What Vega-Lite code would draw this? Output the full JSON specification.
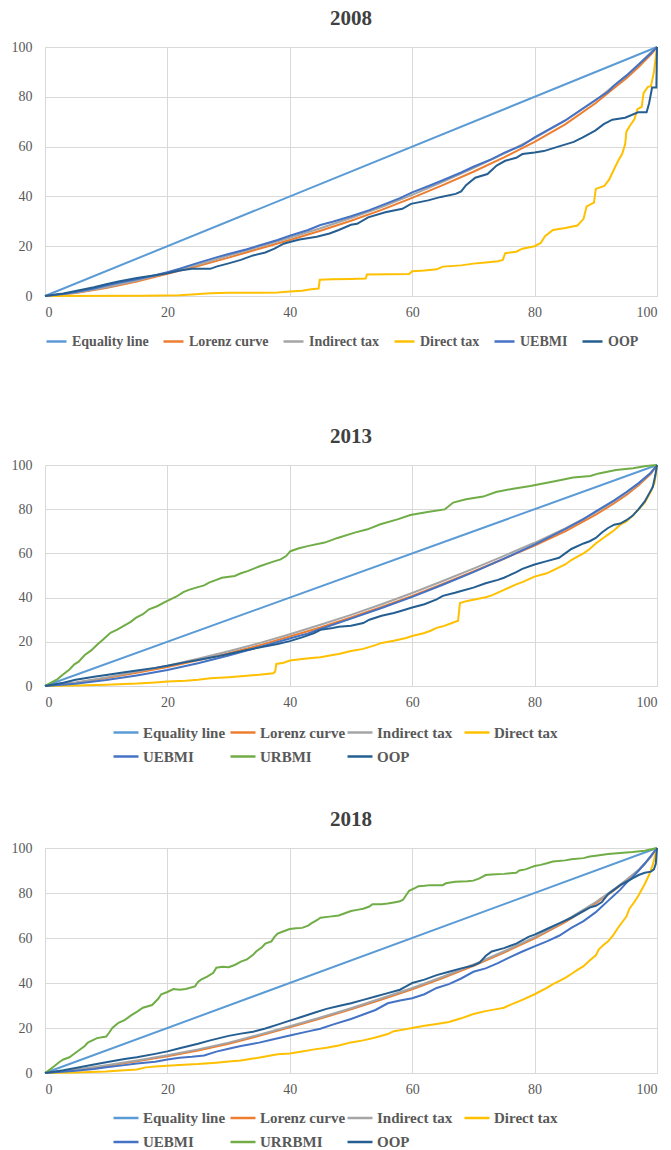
{
  "$schema": "https://vega.github.io/schema/vega-lite/v6.json",
  "background": "white",
  "padding": {"left": 11, "right": 2, "top": 8, "bottom": 0},
  "datasets": {
    "d2008": [
      {"s":"Equality line","x":0,"y":0},{"s":"Equality line","x":100,"y":100},
      {"s":"Lorenz curve","x":0,"y":0},{"s":"Lorenz curve","x":5,"y":1.2},{"s":"Lorenz curve","x":10,"y":3.2},{"s":"Lorenz curve","x":15,"y":5.8},{"s":"Lorenz curve","x":20,"y":8.9},{"s":"Lorenz curve","x":25,"y":12},{"s":"Lorenz curve","x":30,"y":15.4},{"s":"Lorenz curve","x":35,"y":19},{"s":"Lorenz curve","x":40,"y":22.5},{"s":"Lorenz curve","x":45,"y":26.2},{"s":"Lorenz curve","x":50,"y":30.2},{"s":"Lorenz curve","x":55,"y":34.6},{"s":"Lorenz curve","x":60,"y":39.4},{"s":"Lorenz curve","x":65,"y":44.5},{"s":"Lorenz curve","x":70,"y":49.9},{"s":"Lorenz curve","x":75,"y":55.7},{"s":"Lorenz curve","x":80,"y":61.9},{"s":"Lorenz curve","x":85,"y":68.9},{"s":"Lorenz curve","x":90,"y":77.5},{"s":"Lorenz curve","x":93,"y":83.5},{"s":"Lorenz curve","x":95,"y":87.5},{"s":"Lorenz curve","x":97,"y":92},{"s":"Lorenz curve","x":99,"y":97},{"s":"Lorenz curve","x":100,"y":100},
      {"s":"Indirect tax","x":0,"y":0},{"s":"Indirect tax","x":5,"y":1.3},{"s":"Indirect tax","x":10,"y":3.5},{"s":"Indirect tax","x":15,"y":6.2},{"s":"Indirect tax","x":20,"y":9.3},{"s":"Indirect tax","x":25,"y":12.6},{"s":"Indirect tax","x":30,"y":16.2},{"s":"Indirect tax","x":35,"y":19.8},{"s":"Indirect tax","x":40,"y":23.4},{"s":"Indirect tax","x":45,"y":27.2},{"s":"Indirect tax","x":50,"y":31.3},{"s":"Indirect tax","x":55,"y":35.7},{"s":"Indirect tax","x":60,"y":40.6},{"s":"Indirect tax","x":65,"y":45.8},{"s":"Indirect tax","x":70,"y":51.4},{"s":"Indirect tax","x":75,"y":57.2},{"s":"Indirect tax","x":80,"y":63.4},{"s":"Indirect tax","x":85,"y":70.4},{"s":"Indirect tax","x":90,"y":78.6},{"s":"Indirect tax","x":93,"y":84.5},{"s":"Indirect tax","x":95,"y":88.5},{"s":"Indirect tax","x":97,"y":93},{"s":"Indirect tax","x":99,"y":97.8},{"s":"Indirect tax","x":100,"y":100},
      {"s":"Direct tax","x":0,"y":0},{"s":"Direct tax","x":16,"y":0.1},{"s":"Direct tax","x":22,"y":0.3},{"s":"Direct tax","x":24,"y":0.6},{"s":"Direct tax","x":27,"y":1.1},{"s":"Direct tax","x":30,"y":1.3},{"s":"Direct tax","x":35,"y":1.3},{"s":"Direct tax","x":38,"y":1.4},{"s":"Direct tax","x":40,"y":1.8},{"s":"Direct tax","x":42,"y":2.1},{"s":"Direct tax","x":43.5,"y":2.7},{"s":"Direct tax","x":44.7,"y":3},{"s":"Direct tax","x":44.9,"y":6.5},{"s":"Direct tax","x":47,"y":6.7},{"s":"Direct tax","x":50,"y":6.8},{"s":"Direct tax","x":52.4,"y":7},{"s":"Direct tax","x":52.6,"y":8.6},{"s":"Direct tax","x":56,"y":8.7},{"s":"Direct tax","x":59.5,"y":8.8},{"s":"Direct tax","x":60,"y":9.9},{"s":"Direct tax","x":62,"y":10.2},{"s":"Direct tax","x":64,"y":10.7},{"s":"Direct tax","x":65,"y":11.8},{"s":"Direct tax","x":68,"y":12.3},{"s":"Direct tax","x":70,"y":13},{"s":"Direct tax","x":72,"y":13.5},{"s":"Direct tax","x":74,"y":14},{"s":"Direct tax","x":74.8,"y":14.5},{"s":"Direct tax","x":75.2,"y":17.2},{"s":"Direct tax","x":77,"y":17.8},{"s":"Direct tax","x":78,"y":19},{"s":"Direct tax","x":80,"y":20},{"s":"Direct tax","x":81,"y":21.3},{"s":"Direct tax","x":81.7,"y":24},{"s":"Direct tax","x":83,"y":26.5},{"s":"Direct tax","x":85,"y":27.3},{"s":"Direct tax","x":87,"y":28.3},{"s":"Direct tax","x":88,"y":31},{"s":"Direct tax","x":88.5,"y":36},{"s":"Direct tax","x":89.7,"y":37.5},{"s":"Direct tax","x":90,"y":43},{"s":"Direct tax","x":91.4,"y":44.2},{"s":"Direct tax","x":92.2,"y":46.8},{"s":"Direct tax","x":93,"y":51},{"s":"Direct tax","x":93.7,"y":54.5},{"s":"Direct tax","x":94.3,"y":57},{"s":"Direct tax","x":94.8,"y":61},{"s":"Direct tax","x":95,"y":66},{"s":"Direct tax","x":95.6,"y":68.5},{"s":"Direct tax","x":96.3,"y":71},{"s":"Direct tax","x":96.8,"y":75},{"s":"Direct tax","x":97.5,"y":76},{"s":"Direct tax","x":97.8,"y":81.5},{"s":"Direct tax","x":98.5,"y":84},{"s":"Direct tax","x":99,"y":84.2},{"s":"Direct tax","x":99.5,"y":90},{"s":"Direct tax","x":100,"y":100},
      {"s":"UEBMI","x":0,"y":0},{"s":"UEBMI","x":3,"y":0.8},{"s":"UEBMI","x":5,"y":1.6},{"s":"UEBMI","x":8,"y":3},{"s":"UEBMI","x":10,"y":4.2},{"s":"UEBMI","x":12,"y":5.3},{"s":"UEBMI","x":15,"y":6.7},{"s":"UEBMI","x":18,"y":8.3},{"s":"UEBMI","x":20,"y":9.6},{"s":"UEBMI","x":22,"y":11},{"s":"UEBMI","x":25,"y":13.3},{"s":"UEBMI","x":28,"y":15.5},{"s":"UEBMI","x":30,"y":16.9},{"s":"UEBMI","x":33,"y":18.8},{"s":"UEBMI","x":35,"y":20.3},{"s":"UEBMI","x":38,"y":22.5},{"s":"UEBMI","x":40,"y":24.2},{"s":"UEBMI","x":43,"y":26.5},{"s":"UEBMI","x":45,"y":28.5},{"s":"UEBMI","x":47,"y":29.8},{"s":"UEBMI","x":50,"y":32},{"s":"UEBMI","x":53,"y":34.5},{"s":"UEBMI","x":55,"y":36.4},{"s":"UEBMI","x":58,"y":39.3},{"s":"UEBMI","x":60,"y":41.6},{"s":"UEBMI","x":63,"y":44.5},{"s":"UEBMI","x":65,"y":46.5},{"s":"UEBMI","x":68,"y":49.6},{"s":"UEBMI","x":70,"y":51.9},{"s":"UEBMI","x":73,"y":55},{"s":"UEBMI","x":75,"y":57.5},{"s":"UEBMI","x":78,"y":60.5},{"s":"UEBMI","x":80,"y":63.7},{"s":"UEBMI","x":83,"y":67.8},{"s":"UEBMI","x":85,"y":70.5},{"s":"UEBMI","x":88,"y":75.5},{"s":"UEBMI","x":90,"y":78.8},{"s":"UEBMI","x":92,"y":82},{"s":"UEBMI","x":93,"y":84.5},{"s":"UEBMI","x":95,"y":88.5},{"s":"UEBMI","x":97,"y":93},{"s":"UEBMI","x":99,"y":97.5},{"s":"UEBMI","x":100,"y":100},
      {"s":"OOP","x":0,"y":0},{"s":"OOP","x":3,"y":1},{"s":"OOP","x":5,"y":2},{"s":"OOP","x":8,"y":3.5},{"s":"OOP","x":10,"y":4.7},{"s":"OOP","x":12,"y":5.8},{"s":"OOP","x":15,"y":7.2},{"s":"OOP","x":18,"y":8.3},{"s":"OOP","x":20,"y":9.1},{"s":"OOP","x":22,"y":10.2},{"s":"OOP","x":24,"y":10.9},{"s":"OOP","x":27,"y":10.9},{"s":"OOP","x":28,"y":11.8},{"s":"OOP","x":30,"y":13.1},{"s":"OOP","x":32,"y":14.5},{"s":"OOP","x":34,"y":16.3},{"s":"OOP","x":36,"y":17.5},{"s":"OOP","x":37.5,"y":19},{"s":"OOP","x":39,"y":21},{"s":"OOP","x":40,"y":21.7},{"s":"OOP","x":41.6,"y":22.7},{"s":"OOP","x":44.4,"y":23.8},{"s":"OOP","x":46.5,"y":25.1},{"s":"OOP","x":48,"y":26.5},{"s":"OOP","x":50,"y":28.6},{"s":"OOP","x":51,"y":29},{"s":"OOP","x":52.8,"y":31.6},{"s":"OOP","x":55.6,"y":33.6},{"s":"OOP","x":58.4,"y":35},{"s":"OOP","x":59.8,"y":37},{"s":"OOP","x":62.6,"y":38.4},{"s":"OOP","x":64.7,"y":39.8},{"s":"OOP","x":67.1,"y":41},{"s":"OOP","x":68,"y":42},{"s":"OOP","x":68.8,"y":44.5},{"s":"OOP","x":70.3,"y":47.5},{"s":"OOP","x":72.3,"y":49},{"s":"OOP","x":73.8,"y":52.4},{"s":"OOP","x":75.2,"y":54.3},{"s":"OOP","x":77,"y":55.5},{"s":"OOP","x":78,"y":57},{"s":"OOP","x":80,"y":57.6},{"s":"OOP","x":81.5,"y":58.2},{"s":"OOP","x":83.6,"y":59.8},{"s":"OOP","x":86.4,"y":61.9},{"s":"OOP","x":87.8,"y":63.6},{"s":"OOP","x":89.9,"y":66.4},{"s":"OOP","x":91.3,"y":69},{"s":"OOP","x":92.7,"y":70.8},{"s":"OOP","x":94.8,"y":71.6},{"s":"OOP","x":96.9,"y":73.8},{"s":"OOP","x":98.3,"y":73.8},{"s":"OOP","x":98.7,"y":77.3},{"s":"OOP","x":99.2,"y":83.7},{"s":"OOP","x":99.9,"y":83.7},{"s":"OOP","x":100,"y":100}
    ],
    "d2013": [
      {"s":"Equality line","x":0,"y":0},{"s":"Equality line","x":100,"y":100},
      {"s":"Lorenz curve","x":0,"y":0},{"s":"Lorenz curve","x":5,"y":1.5},{"s":"Lorenz curve","x":10,"y":3.6},{"s":"Lorenz curve","x":15,"y":6},{"s":"Lorenz curve","x":20,"y":8.6},{"s":"Lorenz curve","x":25,"y":11.6},{"s":"Lorenz curve","x":30,"y":14.8},{"s":"Lorenz curve","x":35,"y":18.4},{"s":"Lorenz curve","x":40,"y":22.4},{"s":"Lorenz curve","x":45,"y":26.5},{"s":"Lorenz curve","x":50,"y":31},{"s":"Lorenz curve","x":55,"y":35.8},{"s":"Lorenz curve","x":60,"y":40.8},{"s":"Lorenz curve","x":65,"y":46.2},{"s":"Lorenz curve","x":70,"y":51.8},{"s":"Lorenz curve","x":75,"y":57.6},{"s":"Lorenz curve","x":80,"y":63.5},{"s":"Lorenz curve","x":85,"y":70},{"s":"Lorenz curve","x":90,"y":77.5},{"s":"Lorenz curve","x":93,"y":82.7},{"s":"Lorenz curve","x":95,"y":86.5},{"s":"Lorenz curve","x":97,"y":90.8},{"s":"Lorenz curve","x":99,"y":96},{"s":"Lorenz curve","x":100,"y":100},
      {"s":"Indirect tax","x":0,"y":0},{"s":"Indirect tax","x":5,"y":1.6},{"s":"Indirect tax","x":10,"y":3.9},{"s":"Indirect tax","x":15,"y":6.5},{"s":"Indirect tax","x":20,"y":9.2},{"s":"Indirect tax","x":25,"y":12.3},{"s":"Indirect tax","x":30,"y":15.7},{"s":"Indirect tax","x":35,"y":19.4},{"s":"Indirect tax","x":40,"y":23.4},{"s":"Indirect tax","x":45,"y":27.7},{"s":"Indirect tax","x":50,"y":32.2},{"s":"Indirect tax","x":55,"y":37},{"s":"Indirect tax","x":60,"y":42.1},{"s":"Indirect tax","x":65,"y":47.5},{"s":"Indirect tax","x":70,"y":53.1},{"s":"Indirect tax","x":75,"y":58.9},{"s":"Indirect tax","x":80,"y":64.8},{"s":"Indirect tax","x":85,"y":71.3},{"s":"Indirect tax","x":90,"y":78.6},{"s":"Indirect tax","x":93,"y":83.6},{"s":"Indirect tax","x":95,"y":87.3},{"s":"Indirect tax","x":97,"y":91.5},{"s":"Indirect tax","x":99,"y":96.5},{"s":"Indirect tax","x":100,"y":100},
      {"s":"Direct tax","x":0,"y":0},{"s":"Direct tax","x":5,"y":0.2},{"s":"Direct tax","x":10,"y":0.6},{"s":"Direct tax","x":15,"y":1.1},{"s":"Direct tax","x":18,"y":1.6},{"s":"Direct tax","x":20,"y":2},{"s":"Direct tax","x":23,"y":2.4},{"s":"Direct tax","x":25,"y":2.8},{"s":"Direct tax","x":27,"y":3.5},{"s":"Direct tax","x":30,"y":4},{"s":"Direct tax","x":33,"y":4.6},{"s":"Direct tax","x":35,"y":5.1},{"s":"Direct tax","x":37.3,"y":5.8},{"s":"Direct tax","x":37.6,"y":6.5},{"s":"Direct tax","x":37.8,"y":10},{"s":"Direct tax","x":39,"y":10.5},{"s":"Direct tax","x":40,"y":11.5},{"s":"Direct tax","x":42,"y":12.2},{"s":"Direct tax","x":44,"y":12.8},{"s":"Direct tax","x":45,"y":13},{"s":"Direct tax","x":47,"y":14},{"s":"Direct tax","x":48,"y":14.5},{"s":"Direct tax","x":50,"y":15.8},{"s":"Direct tax","x":52,"y":16.8},{"s":"Direct tax","x":54,"y":18.5},{"s":"Direct tax","x":55,"y":19.5},{"s":"Direct tax","x":57,"y":20.5},{"s":"Direct tax","x":59,"y":21.7},{"s":"Direct tax","x":60,"y":22.6},{"s":"Direct tax","x":62,"y":24},{"s":"Direct tax","x":63,"y":25},{"s":"Direct tax","x":64,"y":26.3},{"s":"Direct tax","x":65,"y":27},{"s":"Direct tax","x":66.5,"y":28.5},{"s":"Direct tax","x":67.5,"y":29.5},{"s":"Direct tax","x":67.8,"y":37.5},{"s":"Direct tax","x":69,"y":38.5},{"s":"Direct tax","x":70,"y":39},{"s":"Direct tax","x":72,"y":40.2},{"s":"Direct tax","x":73,"y":41},{"s":"Direct tax","x":75,"y":43.5},{"s":"Direct tax","x":77,"y":46},{"s":"Direct tax","x":78,"y":47},{"s":"Direct tax","x":80,"y":49.5},{"s":"Direct tax","x":82,"y":51},{"s":"Direct tax","x":83,"y":52.3},{"s":"Direct tax","x":85,"y":55},{"s":"Direct tax","x":86,"y":57},{"s":"Direct tax","x":87,"y":58.5},{"s":"Direct tax","x":88,"y":60},{"s":"Direct tax","x":89,"y":62},{"s":"Direct tax","x":90,"y":64.5},{"s":"Direct tax","x":91,"y":66.5},{"s":"Direct tax","x":92,"y":68.5},{"s":"Direct tax","x":93,"y":70.5},{"s":"Direct tax","x":94,"y":73},{"s":"Direct tax","x":95,"y":74.5},{"s":"Direct tax","x":96,"y":77},{"s":"Direct tax","x":97,"y":80},{"s":"Direct tax","x":98,"y":83},{"s":"Direct tax","x":99,"y":88},{"s":"Direct tax","x":99.6,"y":92},{"s":"Direct tax","x":100,"y":100},
      {"s":"UEBMI","x":0,"y":0},{"s":"UEBMI","x":5,"y":1},{"s":"UEBMI","x":10,"y":2.7},{"s":"UEBMI","x":15,"y":4.8},{"s":"UEBMI","x":20,"y":7.2},{"s":"UEBMI","x":25,"y":10.3},{"s":"UEBMI","x":30,"y":13.8},{"s":"UEBMI","x":35,"y":17.6},{"s":"UEBMI","x":40,"y":21.5},{"s":"UEBMI","x":43,"y":23.8},{"s":"UEBMI","x":45,"y":25.8},{"s":"UEBMI","x":50,"y":30.5},{"s":"UEBMI","x":55,"y":35.3},{"s":"UEBMI","x":60,"y":40.3},{"s":"UEBMI","x":65,"y":45.8},{"s":"UEBMI","x":70,"y":51.5},{"s":"UEBMI","x":75,"y":57.6},{"s":"UEBMI","x":80,"y":64},{"s":"UEBMI","x":85,"y":71},{"s":"UEBMI","x":88,"y":75.5},{"s":"UEBMI","x":90,"y":79},{"s":"UEBMI","x":93,"y":84},{"s":"UEBMI","x":95,"y":87.8},{"s":"UEBMI","x":97,"y":91.8},{"s":"UEBMI","x":99,"y":96.5},{"s":"UEBMI","x":100,"y":100},
      {"s":"URBMI","x":0,"y":0},{"s":"URBMI","x":1,"y":1.5},{"s":"URBMI","x":2,"y":3},{"s":"URBMI","x":3,"y":5.3},{"s":"URBMI","x":4,"y":7.5},{"s":"URBMI","x":4.8,"y":9.8},{"s":"URBMI","x":5.5,"y":11},{"s":"URBMI","x":6.5,"y":14},{"s":"URBMI","x":7.5,"y":16},{"s":"URBMI","x":8.6,"y":18.9},{"s":"URBMI","x":9.5,"y":21},{"s":"URBMI","x":10.7,"y":24.1},{"s":"URBMI","x":11.8,"y":25.5},{"s":"URBMI","x":12.8,"y":27.1},{"s":"URBMI","x":14,"y":29},{"s":"URBMI","x":14.9,"y":30.9},{"s":"URBMI","x":16,"y":32.5},{"s":"URBMI","x":17,"y":34.7},{"s":"URBMI","x":18.4,"y":36.2},{"s":"URBMI","x":19.5,"y":37.8},{"s":"URBMI","x":20.5,"y":39.2},{"s":"URBMI","x":21.5,"y":40.5},{"s":"URBMI","x":22.6,"y":42.5},{"s":"URBMI","x":23.5,"y":43.5},{"s":"URBMI","x":24.7,"y":44.5},{"s":"URBMI","x":26,"y":45.5},{"s":"URBMI","x":26.8,"y":46.8},{"s":"URBMI","x":28,"y":48},{"s":"URBMI","x":28.9,"y":49},{"s":"URBMI","x":31,"y":49.8},{"s":"URBMI","x":32,"y":51},{"s":"URBMI","x":33.1,"y":52},{"s":"URBMI","x":35.2,"y":54.3},{"s":"URBMI","x":37.3,"y":56.3},{"s":"URBMI","x":38.5,"y":57.3},{"s":"URBMI","x":39.4,"y":58.8},{"s":"URBMI","x":40.1,"y":61},{"s":"URBMI","x":41.5,"y":62.3},{"s":"URBMI","x":42.9,"y":63.3},{"s":"URBMI","x":45.7,"y":64.9},{"s":"URBMI","x":47.8,"y":67},{"s":"URBMI","x":50.6,"y":69.4},{"s":"URBMI","x":52.7,"y":70.9},{"s":"URBMI","x":54.8,"y":73.2},{"s":"URBMI","x":57.6,"y":75.4},{"s":"URBMI","x":59.7,"y":77.4},{"s":"URBMI","x":62.5,"y":78.7},{"s":"URBMI","x":65.3,"y":79.9},{"s":"URBMI","x":66.7,"y":83},{"s":"URBMI","x":68.8,"y":84.5},{"s":"URBMI","x":71.6,"y":85.7},{"s":"URBMI","x":73.7,"y":87.8},{"s":"URBMI","x":76.5,"y":89.3},{"s":"URBMI","x":79.3,"y":90.5},{"s":"URBMI","x":81.4,"y":91.6},{"s":"URBMI","x":83.5,"y":92.8},{"s":"URBMI","x":86.3,"y":94.3},{"s":"URBMI","x":89.1,"y":95},{"s":"URBMI","x":90.5,"y":96.2},{"s":"URBMI","x":93.3,"y":97.7},{"s":"URBMI","x":96.1,"y":98.5},{"s":"URBMI","x":98.2,"y":99.5},{"s":"URBMI","x":100,"y":100},
      {"s":"OOP","x":0,"y":0},{"s":"OOP","x":3,"y":1.5},{"s":"OOP","x":5,"y":2.8},{"s":"OOP","x":8,"y":4.2},{"s":"OOP","x":10,"y":5},{"s":"OOP","x":13,"y":6.2},{"s":"OOP","x":15,"y":7},{"s":"OOP","x":18,"y":8.2},{"s":"OOP","x":20,"y":9.2},{"s":"OOP","x":23,"y":10.8},{"s":"OOP","x":25,"y":11.8},{"s":"OOP","x":28,"y":13.3},{"s":"OOP","x":30,"y":14.5},{"s":"OOP","x":33,"y":16.3},{"s":"OOP","x":35,"y":17.4},{"s":"OOP","x":38,"y":19},{"s":"OOP","x":40,"y":20.3},{"s":"OOP","x":42,"y":22},{"s":"OOP","x":44,"y":24},{"s":"OOP","x":45,"y":25.4},{"s":"OOP","x":47,"y":26.2},{"s":"OOP","x":48,"y":26.8},{"s":"OOP","x":50,"y":27.3},{"s":"OOP","x":52,"y":28.5},{"s":"OOP","x":53,"y":30},{"s":"OOP","x":55,"y":31.8},{"s":"OOP","x":57,"y":33},{"s":"OOP","x":58,"y":33.8},{"s":"OOP","x":60,"y":35.5},{"s":"OOP","x":62,"y":37},{"s":"OOP","x":64,"y":39.2},{"s":"OOP","x":65,"y":40.8},{"s":"OOP","x":67,"y":42.2},{"s":"OOP","x":68,"y":43},{"s":"OOP","x":70,"y":44.5},{"s":"OOP","x":72,"y":46.5},{"s":"OOP","x":74,"y":48},{"s":"OOP","x":75,"y":49},{"s":"OOP","x":77,"y":51.5},{"s":"OOP","x":78,"y":53},{"s":"OOP","x":80,"y":55},{"s":"OOP","x":82,"y":56.5},{"s":"OOP","x":84,"y":58},{"s":"OOP","x":85,"y":60},{"s":"OOP","x":86,"y":62},{"s":"OOP","x":88,"y":64.5},{"s":"OOP","x":89,"y":65.5},{"s":"OOP","x":90,"y":67},{"s":"OOP","x":91,"y":69.5},{"s":"OOP","x":92,"y":71.5},{"s":"OOP","x":93,"y":73},{"s":"OOP","x":94,"y":73.5},{"s":"OOP","x":95,"y":75},{"s":"OOP","x":96,"y":77},{"s":"OOP","x":97,"y":80},{"s":"OOP","x":98,"y":83.5},{"s":"OOP","x":98.8,"y":87.5},{"s":"OOP","x":99.3,"y":90},{"s":"OOP","x":99.7,"y":95},{"s":"OOP","x":100,"y":100}
    ],
    "d2018": [
      {"s":"Equality line","x":0,"y":0},{"s":"Equality line","x":100,"y":100},
      {"s":"Lorenz curve","x":0,"y":0},{"s":"Lorenz curve","x":5,"y":1.3},{"s":"Lorenz curve","x":10,"y":3.1},{"s":"Lorenz curve","x":15,"y":5.2},{"s":"Lorenz curve","x":20,"y":7.4},{"s":"Lorenz curve","x":25,"y":10},{"s":"Lorenz curve","x":30,"y":13},{"s":"Lorenz curve","x":35,"y":16.5},{"s":"Lorenz curve","x":40,"y":20.3},{"s":"Lorenz curve","x":45,"y":24.2},{"s":"Lorenz curve","x":50,"y":28.3},{"s":"Lorenz curve","x":55,"y":32.6},{"s":"Lorenz curve","x":60,"y":37.2},{"s":"Lorenz curve","x":65,"y":42.2},{"s":"Lorenz curve","x":70,"y":47.6},{"s":"Lorenz curve","x":75,"y":53.5},{"s":"Lorenz curve","x":80,"y":59.8},{"s":"Lorenz curve","x":85,"y":67},{"s":"Lorenz curve","x":90,"y":75.5},{"s":"Lorenz curve","x":93,"y":81.2},{"s":"Lorenz curve","x":95,"y":85.5},{"s":"Lorenz curve","x":97,"y":90},{"s":"Lorenz curve","x":99,"y":96},{"s":"Lorenz curve","x":100,"y":100},
      {"s":"Indirect tax","x":0,"y":0},{"s":"Indirect tax","x":5,"y":1.5},{"s":"Indirect tax","x":10,"y":3.4},{"s":"Indirect tax","x":15,"y":5.6},{"s":"Indirect tax","x":20,"y":7.9},{"s":"Indirect tax","x":25,"y":10.5},{"s":"Indirect tax","x":30,"y":13.5},{"s":"Indirect tax","x":35,"y":17},{"s":"Indirect tax","x":40,"y":20.8},{"s":"Indirect tax","x":45,"y":24.7},{"s":"Indirect tax","x":50,"y":28.8},{"s":"Indirect tax","x":55,"y":33.2},{"s":"Indirect tax","x":60,"y":37.8},{"s":"Indirect tax","x":65,"y":42.8},{"s":"Indirect tax","x":70,"y":48.2},{"s":"Indirect tax","x":75,"y":54.1},{"s":"Indirect tax","x":80,"y":60.4},{"s":"Indirect tax","x":85,"y":67.6},{"s":"Indirect tax","x":90,"y":76},{"s":"Indirect tax","x":93,"y":81.7},{"s":"Indirect tax","x":95,"y":85.9},{"s":"Indirect tax","x":97,"y":90.3},{"s":"Indirect tax","x":99,"y":96.2},{"s":"Indirect tax","x":100,"y":100},
      {"s":"Direct tax","x":0,"y":0},{"s":"Direct tax","x":5,"y":0.2},{"s":"Direct tax","x":10,"y":0.7},{"s":"Direct tax","x":13,"y":1.2},{"s":"Direct tax","x":15,"y":1.6},{"s":"Direct tax","x":16.5,"y":2.5},{"s":"Direct tax","x":18,"y":2.9},{"s":"Direct tax","x":20,"y":3.2},{"s":"Direct tax","x":22,"y":3.6},{"s":"Direct tax","x":25,"y":4},{"s":"Direct tax","x":28,"y":4.6},{"s":"Direct tax","x":30,"y":5.1},{"s":"Direct tax","x":32,"y":5.6},{"s":"Direct tax","x":34,"y":6.4},{"s":"Direct tax","x":36,"y":7.3},{"s":"Direct tax","x":38,"y":8.3},{"s":"Direct tax","x":40,"y":8.7},{"s":"Direct tax","x":42,"y":9.6},{"s":"Direct tax","x":44,"y":10.5},{"s":"Direct tax","x":46,"y":11.2},{"s":"Direct tax","x":48,"y":12.2},{"s":"Direct tax","x":50,"y":13.6},{"s":"Direct tax","x":52,"y":14.5},{"s":"Direct tax","x":54,"y":15.8},{"s":"Direct tax","x":56,"y":17.3},{"s":"Direct tax","x":57,"y":18.6},{"s":"Direct tax","x":59,"y":19.5},{"s":"Direct tax","x":60,"y":20},{"s":"Direct tax","x":62,"y":21},{"s":"Direct tax","x":64,"y":21.8},{"s":"Direct tax","x":66,"y":22.7},{"s":"Direct tax","x":68,"y":24.3},{"s":"Direct tax","x":70,"y":26.2},{"s":"Direct tax","x":72,"y":27.5},{"s":"Direct tax","x":74,"y":28.5},{"s":"Direct tax","x":75,"y":29},{"s":"Direct tax","x":76,"y":30.3},{"s":"Direct tax","x":78,"y":32.5},{"s":"Direct tax","x":80,"y":35},{"s":"Direct tax","x":82,"y":37.8},{"s":"Direct tax","x":83,"y":39.5},{"s":"Direct tax","x":84,"y":40.8},{"s":"Direct tax","x":85,"y":42.3},{"s":"Direct tax","x":86,"y":44},{"s":"Direct tax","x":87,"y":45.8},{"s":"Direct tax","x":88,"y":47.5},{"s":"Direct tax","x":89,"y":50},{"s":"Direct tax","x":90,"y":52.3},{"s":"Direct tax","x":90.5,"y":55},{"s":"Direct tax","x":91.3,"y":57},{"s":"Direct tax","x":92,"y":58.5},{"s":"Direct tax","x":92.8,"y":61},{"s":"Direct tax","x":93.5,"y":64},{"s":"Direct tax","x":94.3,"y":67},{"s":"Direct tax","x":95,"y":69.5},{"s":"Direct tax","x":95.5,"y":73},{"s":"Direct tax","x":96.3,"y":76},{"s":"Direct tax","x":97,"y":79},{"s":"Direct tax","x":98,"y":84},{"s":"Direct tax","x":98.7,"y":88},{"s":"Direct tax","x":99.3,"y":92.5},{"s":"Direct tax","x":100,"y":100},
      {"s":"UEBMI","x":0,"y":0},{"s":"UEBMI","x":5,"y":1},{"s":"UEBMI","x":8,"y":1.8},{"s":"UEBMI","x":10,"y":2.6},{"s":"UEBMI","x":13,"y":3.5},{"s":"UEBMI","x":15,"y":4.2},{"s":"UEBMI","x":18,"y":5},{"s":"UEBMI","x":20,"y":6},{"s":"UEBMI","x":22,"y":6.8},{"s":"UEBMI","x":24,"y":7.2},{"s":"UEBMI","x":26,"y":7.8},{"s":"UEBMI","x":28,"y":9.5},{"s":"UEBMI","x":30,"y":10.8},{"s":"UEBMI","x":32,"y":12},{"s":"UEBMI","x":35,"y":13.5},{"s":"UEBMI","x":37,"y":14.8},{"s":"UEBMI","x":40,"y":16.7},{"s":"UEBMI","x":43,"y":18.5},{"s":"UEBMI","x":45,"y":19.7},{"s":"UEBMI","x":47,"y":21.5},{"s":"UEBMI","x":50,"y":24},{"s":"UEBMI","x":52,"y":26},{"s":"UEBMI","x":54,"y":28},{"s":"UEBMI","x":56,"y":31},{"s":"UEBMI","x":58,"y":32.2},{"s":"UEBMI","x":60,"y":33.2},{"s":"UEBMI","x":62,"y":35},{"s":"UEBMI","x":64,"y":37.8},{"s":"UEBMI","x":66,"y":39.5},{"s":"UEBMI","x":68,"y":42},{"s":"UEBMI","x":70,"y":45},{"s":"UEBMI","x":72,"y":46.5},{"s":"UEBMI","x":74,"y":48.8},{"s":"UEBMI","x":76,"y":51.5},{"s":"UEBMI","x":78,"y":54},{"s":"UEBMI","x":80,"y":56.3},{"s":"UEBMI","x":82,"y":58.5},{"s":"UEBMI","x":84,"y":61},{"s":"UEBMI","x":86,"y":64.5},{"s":"UEBMI","x":88,"y":67.5},{"s":"UEBMI","x":89,"y":69.5},{"s":"UEBMI","x":90,"y":71.5},{"s":"UEBMI","x":91,"y":74},{"s":"UEBMI","x":92,"y":76.5},{"s":"UEBMI","x":93,"y":79},{"s":"UEBMI","x":94,"y":81.5},{"s":"UEBMI","x":95,"y":84.5},{"s":"UEBMI","x":96,"y":87},{"s":"UEBMI","x":97,"y":90},{"s":"UEBMI","x":98,"y":93},{"s":"UEBMI","x":99,"y":96.5},{"s":"UEBMI","x":100,"y":100},
      {"s":"URRBMI","x":0,"y":0},{"s":"URRBMI","x":0.8,"y":1.5},{"s":"URRBMI","x":1.5,"y":3},{"s":"URRBMI","x":2.3,"y":4.8},{"s":"URRBMI","x":3,"y":6},{"s":"URRBMI","x":4,"y":7},{"s":"URRBMI","x":4.5,"y":8},{"s":"URRBMI","x":5.5,"y":10},{"s":"URRBMI","x":6.5,"y":12},{"s":"URRBMI","x":7,"y":13.5},{"s":"URRBMI","x":8,"y":14.8},{"s":"URRBMI","x":8.5,"y":15.5},{"s":"URRBMI","x":10,"y":16.2},{"s":"URRBMI","x":10.5,"y":18},{"s":"URRBMI","x":11,"y":20},{"s":"URRBMI","x":12,"y":22.3},{"s":"URRBMI","x":13,"y":23.5},{"s":"URRBMI","x":14,"y":25.5},{"s":"URRBMI","x":15,"y":27.2},{"s":"URRBMI","x":16,"y":29},{"s":"URRBMI","x":17.5,"y":30.2},{"s":"URRBMI","x":18.5,"y":33},{"s":"URRBMI","x":19,"y":35},{"s":"URRBMI","x":20,"y":36},{"s":"URRBMI","x":21,"y":37.3},{"s":"URRBMI","x":22,"y":37},{"s":"URRBMI","x":23,"y":37.3},{"s":"URRBMI","x":24.5,"y":38.5},{"s":"URRBMI","x":25,"y":40.5},{"s":"URRBMI","x":25.5,"y":41.5},{"s":"URRBMI","x":26.5,"y":42.8},{"s":"URRBMI","x":27.5,"y":44.5},{"s":"URRBMI","x":28,"y":46.8},{"s":"URRBMI","x":29,"y":47.2},{"s":"URRBMI","x":30,"y":47},{"s":"URRBMI","x":31,"y":48},{"s":"URRBMI","x":32,"y":49.5},{"s":"URRBMI","x":33,"y":50.5},{"s":"URRBMI","x":34,"y":52.5},{"s":"URRBMI","x":34.5,"y":54},{"s":"URRBMI","x":35.5,"y":56},{"s":"URRBMI","x":36,"y":57.5},{"s":"URRBMI","x":37,"y":58.5},{"s":"URRBMI","x":37.5,"y":60.5},{"s":"URRBMI","x":38,"y":62},{"s":"URRBMI","x":39,"y":63},{"s":"URRBMI","x":40,"y":64},{"s":"URRBMI","x":41,"y":64.3},{"s":"URRBMI","x":42,"y":64.5},{"s":"URRBMI","x":43,"y":65.5},{"s":"URRBMI","x":43.5,"y":66.5},{"s":"URRBMI","x":44.5,"y":68},{"s":"URRBMI","x":45,"y":69},{"s":"URRBMI","x":46.5,"y":69.5},{"s":"URRBMI","x":48,"y":70},{"s":"URRBMI","x":49,"y":71},{"s":"URRBMI","x":50,"y":72},{"s":"URRBMI","x":51,"y":72.5},{"s":"URRBMI","x":52,"y":73},{"s":"URRBMI","x":53,"y":74},{"s":"URRBMI","x":53.5,"y":75},{"s":"URRBMI","x":55,"y":75},{"s":"URRBMI","x":56,"y":75.3},{"s":"URRBMI","x":57,"y":75.8},{"s":"URRBMI","x":58,"y":76.3},{"s":"URRBMI","x":58.5,"y":77},{"s":"URRBMI","x":59,"y":79},{"s":"URRBMI","x":59.5,"y":81},{"s":"URRBMI","x":60.5,"y":82.3},{"s":"URRBMI","x":61,"y":83},{"s":"URRBMI","x":62,"y":83.2},{"s":"URRBMI","x":63,"y":83.5},{"s":"URRBMI","x":65,"y":83.5},{"s":"URRBMI","x":65.5,"y":84.3},{"s":"URRBMI","x":67,"y":85},{"s":"URRBMI","x":69,"y":85.2},{"s":"URRBMI","x":70,"y":85.5},{"s":"URRBMI","x":71,"y":86.5},{"s":"URRBMI","x":72,"y":88},{"s":"URRBMI","x":73,"y":88.2},{"s":"URRBMI","x":75,"y":88.5},{"s":"URRBMI","x":76,"y":88.8},{"s":"URRBMI","x":77,"y":89},{"s":"URRBMI","x":77.5,"y":90},{"s":"URRBMI","x":78.5,"y":90.5},{"s":"URRBMI","x":79.5,"y":91.5},{"s":"URRBMI","x":80,"y":92},{"s":"URRBMI","x":81,"y":92.5},{"s":"URRBMI","x":82,"y":93.2},{"s":"URRBMI","x":83,"y":94},{"s":"URRBMI","x":85,"y":94.5},{"s":"URRBMI","x":86,"y":95},{"s":"URRBMI","x":88,"y":95.5},{"s":"URRBMI","x":89,"y":96.2},{"s":"URRBMI","x":90,"y":96.6},{"s":"URRBMI","x":92,"y":97.3},{"s":"URRBMI","x":94,"y":97.8},{"s":"URRBMI","x":96,"y":98.2},{"s":"URRBMI","x":98,"y":98.8},{"s":"URRBMI","x":100,"y":100},
      {"s":"OOP","x":0,"y":0},{"s":"OOP","x":3,"y":1.2},{"s":"OOP","x":5,"y":2.2},{"s":"OOP","x":8,"y":3.8},{"s":"OOP","x":10,"y":4.8},{"s":"OOP","x":13,"y":6.2},{"s":"OOP","x":15,"y":7},{"s":"OOP","x":18,"y":8.5},{"s":"OOP","x":20,"y":9.6},{"s":"OOP","x":22,"y":11},{"s":"OOP","x":25,"y":13},{"s":"OOP","x":27,"y":14.5},{"s":"OOP","x":30,"y":16.5},{"s":"OOP","x":32,"y":17.5},{"s":"OOP","x":34,"y":18.3},{"s":"OOP","x":36,"y":19.8},{"s":"OOP","x":38,"y":21.5},{"s":"OOP","x":40,"y":23.3},{"s":"OOP","x":42,"y":25},{"s":"OOP","x":44,"y":26.8},{"s":"OOP","x":46,"y":28.5},{"s":"OOP","x":48,"y":29.8},{"s":"OOP","x":50,"y":31},{"s":"OOP","x":52,"y":32.5},{"s":"OOP","x":54,"y":34},{"s":"OOP","x":56,"y":35.5},{"s":"OOP","x":58,"y":37},{"s":"OOP","x":59,"y":38.5},{"s":"OOP","x":60,"y":40},{"s":"OOP","x":62,"y":41.5},{"s":"OOP","x":64,"y":43.5},{"s":"OOP","x":66,"y":45},{"s":"OOP","x":68,"y":46.5},{"s":"OOP","x":70,"y":47.8},{"s":"OOP","x":71,"y":49},{"s":"OOP","x":72,"y":52},{"s":"OOP","x":73,"y":54},{"s":"OOP","x":75,"y":55.5},{"s":"OOP","x":77,"y":57.5},{"s":"OOP","x":79,"y":60.5},{"s":"OOP","x":80,"y":61.5},{"s":"OOP","x":82,"y":64},{"s":"OOP","x":84,"y":66.5},{"s":"OOP","x":86,"y":69},{"s":"OOP","x":88,"y":72},{"s":"OOP","x":89,"y":73.5},{"s":"OOP","x":90,"y":74.3},{"s":"OOP","x":91,"y":76},{"s":"OOP","x":92,"y":79.5},{"s":"OOP","x":93,"y":81.5},{"s":"OOP","x":94,"y":83.5},{"s":"OOP","x":95,"y":85},{"s":"OOP","x":96,"y":86.5},{"s":"OOP","x":97,"y":88},{"s":"OOP","x":98,"y":89},{"s":"OOP","x":99,"y":89.5},{"s":"OOP","x":99.5,"y":90.5},{"s":"OOP","x":99.8,"y":93},{"s":"OOP","x":100,"y":100}
    ]
  },
  "vconcat": [
    {
      "title": {"text": "2008"},
      "data": {"name": "d2008"},
      "width": 612,
      "height": 249,
      "mark": {"type": "line", "strokeWidth": 2},
      "encoding": {
        "x": {"field": "x", "type": "quantitative", "scale": {"domain": [0, 100], "nice": false}, "axis": {"values": [0, 20, 40, 60, 80, 100]}},
        "y": {"field": "y", "type": "quantitative", "scale": {"domain": [0, 100], "nice": false}, "axis": {"values": [0, 20, 40, 60, 80, 100]}},
        "color": {
          "field": "s", "type": "nominal",
          "scale": {"domain": ["Equality line", "Lorenz curve", "Indirect tax", "Direct tax", "UEBMI", "OOP"], "range": ["#5B9BD5", "#ED7D31", "#A5A5A5", "#FFC000", "#4472C4", "#255E91"]},
          "legend": {"orient": "none", "legendX": 0, "legendY": 283, "columns": 6, "gridAlign": "none", "labelFontSize": 14, "symbolSize": 400, "labelOffset": 4, "columnPadding": 9}
        }
      }
    },
    {
      "vconcat": [
        {
          "title": {"text": "2013"},
          "data": {"name": "d2013"},
          "width": 612,
          "height": 221,
          "mark": {"type": "line", "strokeWidth": 2},
          "encoding": {
            "x": {"field": "x", "type": "quantitative", "scale": {"domain": [0, 100], "nice": false}, "axis": {"values": [0, 20, 40, 60, 80, 100]}},
            "y": {"field": "y", "type": "quantitative", "scale": {"domain": [0, 100], "nice": false}, "axis": {"values": [0, 20, 40, 60, 80, 100]}},
            "color": {
              "field": "s", "type": "nominal",
              "scale": {"domain": ["Equality line", "Lorenz curve", "Indirect tax", "Direct tax", "UEBMI", "URBMI", "OOP"], "range": ["#5B9BD5", "#ED7D31", "#A5A5A5", "#FFC000", "#4472C4", "#70AD47", "#255E91"]},
              "legend": {"orient": "none", "legendX": 67, "legendY": 253.5, "columns": 4}
            }
          }
        },
        {
          "title": {"text": "2018"},
          "data": {"name": "d2018"},
          "width": 612,
          "height": 225,
          "mark": {"type": "line", "strokeWidth": 2},
          "encoding": {
            "x": {"field": "x", "type": "quantitative", "scale": {"domain": [0, 100], "nice": false}, "axis": {"values": [0, 20, 40, 60, 80, 100]}},
            "y": {"field": "y", "type": "quantitative", "scale": {"domain": [0, 100], "nice": false}, "axis": {"values": [0, 20, 40, 60, 80, 100]}},
            "color": {
              "field": "s", "type": "nominal",
              "scale": {"domain": ["Equality line", "Lorenz curve", "Indirect tax", "Direct tax", "UEBMI", "URRBMI", "OOP"], "range": ["#5B9BD5", "#ED7D31", "#A5A5A5", "#FFC000", "#4472C4", "#70AD47", "#255E91"]},
              "legend": {"orient": "none", "legendX": 67, "legendY": 256, "columns": 4}
            }
          }
        }
      ],
      "spacing": 44,
      "resolve": {"scale": {"color": "independent"}, "legend": {"color": "independent"}}
    }
  ],
  "spacing": 77,
  "resolve": {"scale": {"color": "independent"}, "legend": {"color": "independent"}},
  "config": {
    "view": {"stroke": null},
    "font": "Liberation Serif, Times New Roman, serif",
    "axis": {"grid": true, "gridColor": "#D9D9D9", "gridWidth": 1, "domainColor": "#D9D9D9", "domainWidth": 1, "ticks": false, "tickSize": 0, "labelFont": "Liberation Serif, Times New Roman, serif", "labelFontSize": 14, "labelColor": "#595959", "title": null},
    "axisX": {"labelPadding": 9},
    "axisY": {"labelPadding": 13},
    "title": {"font": "Liberation Serif, Times New Roman, serif", "fontSize": 21, "fontWeight": "bold", "color": "#404040", "anchor": "middle", "offset": 11},
    "legend": {"title": null, "direction": "horizontal", "symbolType": "stroke", "symbolSize": 625, "symbolStrokeWidth": 2.5, "labelFont": "Liberation Serif, Times New Roman, serif", "labelFontWeight": "bold", "labelFontSize": 15, "labelColor": "#595959", "labelOffset": 3, "columnPadding": -8, "rowPadding": 2, "gridAlign": "all", "labelLimit": 200}
  }
}
